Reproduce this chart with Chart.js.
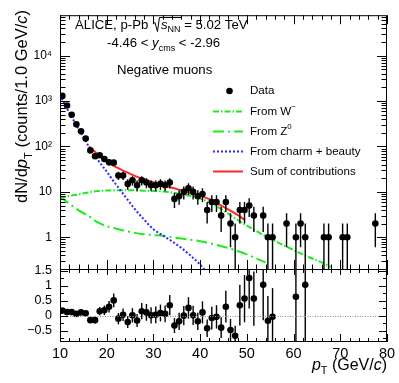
<!DOCTYPE html>
<html><head><meta charset="utf-8">
<script src="https://cdn.jsdelivr.net/npm/chart.js@4.4.1/dist/chart.umd.min.js"></script>
<style>
html,body{margin:0;padding:0;background:#fff;}
#wrap{position:relative;width:399px;height:383px;overflow:hidden;}
canvas{position:absolute;left:0;top:0;}
</style></head><body>
<div id="wrap"><canvas id="bot" width="399" height="383"></canvas><canvas id="top" width="399" height="383"></canvas></div>
<script>
// ---------------- data ----------------
const ptBins = [10.5,11.5,12.5,13.5,14.5,15.5,16.5,17.5,18.5,19.5,
  20.5,21.5,22.5,23.5,24.5,25.5,26.5,27.5,28.5,29.5,
  30.5,31.5,32.5,33.5,34.5,35.5,36.5,37.5,38.5,39.5,
  40.5,41.5,42.5,43.5,44.5,45.5,46.5,47.5,48.5,49.5,
  50.5,51.5,53.5,54.5,55.5,58.5,60.5,61.5,62.5,66.5,67.5,70.5,71.5,77.5];
const counts = [1300,800,500,307,216,149,82,61,64,53,
  45,44,23,23,15,18,14,18,16,14,
  14,15,14,16,7,8,10,12,10,8,
  9,4,6,6,3,6,2,1,4,4,
  5,3,3,1,1,2,1,2,1,1,1,1,1,2];
const countErr = [36,28,22,17.5,14.7,12.2,9.1,7.8,8,7.3,
  6.7,6.6,4.8,4.8,3.9,4.2,3.7,4.2,4,3.7,
  3.7,3.9,3.7,4,2.6,2.8,3.2,3.5,3.2,2.8,
  3,2,2.4,2.4,1.7,2.4,1.4,1,2,2,
  2.2,1.7,1.7,1,1,1.4,1,1.4,1,1,1,1,1,1.4];

const resBins = [10.5,11.5,12.5,13.5,14.5,15.5,16.5,17.5,18.5,19.5,
  20.5,21.5,22.5,23.5,24.5,25.5,26.5,27.5,28.5,29.5,
  30.5,31.5,32.5,33.5,34.5,35.5,36.5,37.5,38.5,39.5,
  40.5,41.5,42.5,43.5,44.5,45.5,46.5,47.5,48.5,49.5,
  50.5,51.5,53.5,54.5,55.5,60.5,62.5];
const residual = [0.17,0.12,0.12,0.06,0.11,0.08,-0.15,-0.15,0.15,0.18,
  0.30,0.51,-0.10,0.03,-0.21,0.01,-0.16,0.15,0.11,0.01,
  0.03,0.09,0.06,0.35,-0.33,-0.19,0.0,0.26,0.01,-0.19,
  0.11,-0.42,-0.08,-0.04,-0.40,0.30,-0.48,-0.67,0.35,0.57,
  1.26,0.57,1.03,-0.17,-0.04,0.63,1.03];
const residualErr = [0.03,0.04,0.05,0.06,0.075,0.09,0.094,0.11,0.14,0.16,
  0.19,0.23,0.19,0.21,0.2,0.24,0.22,0.27,0.28,0.27,
  0.28,0.28,0.28,0.34,0.25,0.29,0.32,0.36,0.32,0.29,
  0.37,0.29,0.38,0.39,0.35,0.53,0.37,0.33,0.68,0.79,
  1.02,0.91,1.18,0.83,0.96,1.64,2.05];

const wPt  = [10,12,14,16,18,20,22,24,26,28,30,32,34,36,38,40,42,44,46,48,50,52,54,56,58,60,62,64,66,68];
const wVal = [7.2,8.1,8.8,9.7,10.4,10.7,10.9,10.9,10.8,10.6,10.5,10.2,9.7,8.9,8.1,7.1,5.9,4.5,3.3,2.4,1.8,1.38,1.05,0.83,0.66,0.52,0.42,0.34,0.28,0.22];
const zPt  = [10,11,12,13,14,16,18,20,22,24,26,28,30,32,34,36,38,40,42,44,46,48,50,52,54];
const zVal = [8.2,6.5,5.5,4.6,3.9,3.0,2.15,1.75,1.55,1.38,1.25,1.17,1.12,1.08,1.0,0.94,0.88,0.82,0.74,0.66,0.58,0.5,0.42,0.34,0.28];
const hfPt  = [10,11,12,13,14,15,16,17,18,19,20,21,22,24,26,28,30,32,34,36,38,40,41];
const hfVal = [1380,850,550,363,240,160,107,74,52,38,28,20,14.5,7.8,4.2,2.45,1.5,1.1,0.81,0.58,0.39,0.25,0.19];
const sumPt  = [16.2,17,18,19,20,21,22,24,26,28,30,32,34,36,38,40,42,44,46,48,49.6];
const sumVal = [100,85,68,56,46,40,35,28,22.5,19,16.3,14,12.3,10.8,9.4,8.2,6.9,5.3,4.1,3.1,2.4];

const xTicks = [10,20,30,40,50,60,70,80];
const xTickLabels = ['10','20','30','40','50','60','70','80'];
const yTopTicks = [1,10,100,1000,10000];
const yTopLabels = ['1','10','10\u00B2','10\u00B3','10\u2074'];
const yBotTicks = [-0.5,0,0.5,1,1.5];
const yBotLabels = ['\u22120.5','0','0.5','1','1.5'];

const legendLabels = ['Data','From W\u207B','From Z\u2070','From charm + beauty','Sum of contributions'];

// ---------------- style ----------------
const FONT = '"Liberation Sans", Arial, Helvetica, sans-serif';
const GREEN = 'rgb(30,235,30)';
const BLUE = 'rgb(40,40,255)';
const RED = 'rgb(255,40,40)';
const W_DASH = [6,2,1.5,2];
const Z_DASH = [11,4,2,4];
const HF_DASH = [2,2];

function pts(xs, ys){ return xs.map((x,i)=>({x:x, y:ys[i]})); }

function drawRuns(ctx, x, y, parts, size, measureOnly){
  let cx = x;
  for (const p of parts){
    const small = p.sub || p.sup;
    const fs = small ? size*0.68 : size;
    ctx.font = (p.i ? 'italic ' : '') + fs + 'px ' + FONT;
    const dy = p.sub ? size*0.28 : (p.sup ? -size*0.42 : 0);
    if (!measureOnly) ctx.fillText(p.t, cx, y+dy);
    cx += ctx.measureText(p.t).width;
  }
  return cx - x;
}

const errorBars = {
  id:'errorBars',
  afterDatasetsDraw(chart){
    const {ctx, chartArea:a, scales} = chart;
    const xs = scales.x, ys = scales.y;
    chart.data.datasets.forEach(ds=>{
      if (!ds.errors) return;
      ctx.save();
      ctx.beginPath(); ctx.rect(a.left, a.top, a.right-a.left, a.bottom-a.top); ctx.clip();
      ctx.strokeStyle = '#000'; ctx.lineWidth = 1.4;
      ds.data.forEach((p,i)=>{
        const e = ds.errors[i];
        const px = xs.getPixelForValue(p.x);
        const lo = p.y - e;
        const pLo = (ys.type === 'logarithmic' && lo <= 0) ? a.bottom + 5 : ys.getPixelForValue(lo);
        const pHi = ys.getPixelForValue(p.y + e);
        ctx.beginPath(); ctx.moveTo(px, pLo); ctx.lineTo(px, pHi); ctx.stroke();
      });
      ctx.restore();
    });
  }
};

const topDecor = {
  id:'topDecor',
  afterDraw(chart){
    const {ctx, chartArea:a, scales:{x, y}} = chart;
    ctx.save();
    ctx.strokeStyle = '#000'; ctx.lineWidth = 1;
    ctx.strokeRect(a.left+0.5, a.top+0.5, a.right-a.left-1, a.bottom-a.top);
    ctx.beginPath();
    for (let v = 10; v <= 80; v += 2){
      const px = Math.round(x.getPixelForValue(v)) + 0.5;
      const L = (v % 10 === 0) ? 9 : 4.5;
      ctx.moveTo(px, a.bottom); ctx.lineTo(px, a.bottom - L);
      ctx.moveTo(px, a.top); ctx.lineTo(px, a.top + L);
    }
    for (let e = -1; e <= 4; e++){
      for (let k = 1; k <= 9; k++){
        const v = k * Math.pow(10, e);
        if (v < y.min || v > y.max) continue;
        const py = Math.round(y.getPixelForValue(v)) + 0.5;
        const L = (k === 1) ? 10 : 5.5;
        ctx.moveTo(a.left, py); ctx.lineTo(a.left + L, py);
        ctx.moveTo(a.right, py); ctx.lineTo(a.right - L, py);
      }
    }
    ctx.stroke();

    // header text
    ctx.fillStyle = '#000';
    ctx.textBaseline = 'alphabetic'; ctx.textAlign = 'left';
    const hs = 13.2;
    let cx = 75, by = 28.5;
    cx += drawRuns(ctx, cx, by, [{t:'ALICE, p-Pb '}], hs);
    // radical
    const rx = cx + 1;
    const sW = drawRuns(ctx, rx + 8, by, [{t:'s', i:true},{t:'NN', sub:true}], hs, true);
    ctx.beginPath(); ctx.lineWidth = 1;
    ctx.moveTo(rx, by - 5); ctx.lineTo(rx + 2, by - 6); ctx.lineTo(rx + 4.5, by + 3);
    ctx.lineTo(rx + 6.5, by - 11); ctx.lineTo(rx + 8 + sW + 1, by - 11);
    ctx.stroke();
    cx = rx + 8;
    cx += drawRuns(ctx, cx, by, [{t:'s', i:true},{t:'NN', sub:true}], hs);
    drawRuns(ctx, cx, by, [{t:' = 5.02 TeV'}], hs);

    drawRuns(ctx, 107, 47, [{t:'-4.46 < '},{t:'y', i:true},{t:'cms', sub:true},{t:' < -2.96'}], hs);
    drawRuns(ctx, 117, 73.5, [{t:'Negative muons'}], hs);

    // legend
    const ls = 11.6, lx = 250, ly = [91, 111.5, 131.5, 151.5, 171.5];
    ctx.textBaseline = 'middle';
    legendLabels.forEach((t,i)=>{
      if (i === 1){ drawRuns(ctx, lx, ly[i], [{t:'From W'},{t:'\u2212', sup:true}], ls); }
      else if (i === 2){ drawRuns(ctx, lx, ly[i], [{t:'From Z'},{t:'0', sup:true}], ls); }
      else drawRuns(ctx, lx, ly[i], [{t:t}], ls);
    });
    ctx.beginPath(); ctx.arc(229.5, ly[0], 3.3, 0, Math.PI*2); ctx.fill();
    const lineSamples = [[GREEN, W_DASH],[GREEN, Z_DASH],[BLUE, HF_DASH],[RED, []]];
    lineSamples.forEach((s,i)=>{
      ctx.strokeStyle = s[0]; ctx.lineWidth = 2; ctx.setLineDash(s[1]);
      ctx.beginPath(); ctx.moveTo(213, ly[i+1]); ctx.lineTo(243, ly[i+1]); ctx.stroke();
    });
    ctx.setLineDash([]);

    // y title (rotated)
    ctx.fillStyle = '#000';
    ctx.textBaseline = 'alphabetic';
    const ts = 16.5;
    const yParts = [{t:'dN/d'},{t:'p', i:true},{t:'T', sub:true},{t:' (counts/1.0 GeV/'},{t:'c', i:true},{t:')'}];
    const w = drawRuns(ctx, 0, 0, yParts, ts, true);
    ctx.translate(27, 10);
    ctx.rotate(-Math.PI/2);
    drawRuns(ctx, -w, 0, yParts, ts);
    ctx.restore();
  }
};

const botDecor = {
  id:'botDecor',
  afterDraw(chart){
    const {ctx, chartArea:a, scales:{x, y}} = chart;
    ctx.save();
    // zero line
    ctx.strokeStyle = '#888'; ctx.lineWidth = 1; ctx.setLineDash([1,1.5]);
    const p0 = Math.round(y.getPixelForValue(0)) + 0.5;
    ctx.beginPath(); ctx.moveTo(a.left, p0); ctx.lineTo(a.right, p0); ctx.stroke();
    ctx.setLineDash([]);
    ctx.strokeStyle = '#000';
    ctx.strokeRect(a.left+0.5, a.top+0.5, a.right-a.left-1, a.bottom-a.top-1);
    ctx.beginPath();
    for (let v = 10; v <= 80; v += 2){
      const px = Math.round(x.getPixelForValue(v)) + 0.5;
      const major = v % 10 === 0;
      ctx.moveTo(px, a.bottom); ctx.lineTo(px, a.bottom - (major ? 8 : 4));
      ctx.moveTo(px, a.top); ctx.lineTo(px, a.top + (major ? 6 : 4));
    }
    for (let v = -0.75; v <= 1.55; v += 0.25){
      const py = Math.round(y.getPixelForValue(v)) + 0.5;
      const major = Math.abs(v*2 - Math.round(v*2)) < 1e-6;
      const L = major ? 8 : 4;
      ctx.moveTo(a.left, py); ctx.lineTo(a.left + L, py);
      ctx.moveTo(a.right, py); ctx.lineTo(a.right - L, py);
    }
    ctx.stroke();
    // x title
    ctx.fillStyle = '#000'; ctx.textBaseline = 'alphabetic';
    const xs = 16;
    const parts = [{t:'p', i:true},{t:'T', sub:true},{t:' (GeV/'},{t:'c', i:true},{t:')'}];
    const w = drawRuns(ctx, 0, 0, parts, xs, true);
    drawRuns(ctx, 387 - w, 370, parts, xs);
    ctx.restore();
  }
};

new Chart(document.getElementById('top'), {
  type:'line',
  data:{ datasets:[
    {label:'Data', data:pts(ptBins, counts), errors:countErr, showLine:false,
     pointRadius:3.3, pointHoverRadius:3.3, pointBackgroundColor:'#000', pointBorderColor:'#000', pointBorderWidth:0},
    {label:'Sum of contributions', data:pts(sumPt, sumVal), borderColor:RED, borderWidth:2, pointRadius:0, cubicInterpolationMode:'monotone', fill:false, clip:0},
    {label:'From charm + beauty', data:pts(hfPt, hfVal), borderColor:BLUE, borderWidth:2, borderDash:HF_DASH, pointRadius:0, cubicInterpolationMode:'monotone', fill:false, clip:0},
    {label:'From Z0', data:pts(zPt, zVal), borderColor:GREEN, borderWidth:2, borderDash:Z_DASH, pointRadius:0, cubicInterpolationMode:'monotone', fill:false, clip:0},
    {label:'From W-', data:pts(wPt, wVal), borderColor:GREEN, borderWidth:2, borderDash:W_DASH, pointRadius:0, cubicInterpolationMode:'monotone', fill:false, clip:0}
  ]},
  options:{
    responsive:false, animation:false, devicePixelRatio:1,
    layout:{padding:{top:10, right:12, bottom:114, left:0}},
    plugins:{legend:{display:false}, tooltip:{enabled:false}},
    scales:{
      x:{type:'linear', min:10, max:80, display:false},
      y:{type:'logarithmic', min:0.2, max:78000,
        grid:{display:false, drawTicks:false}, border:{display:false},
        ticks:{padding:8, color:'#000', autoSkip:false, font:{family:FONT, size:12},
          callback:(v)=>{ const i = yTopTicks.indexOf(v); return i >= 0 ? yTopLabels[i] : ''; }},
        afterBuildTicks:(s)=>{ s.ticks = yTopTicks.map(v=>({value:v})); },
        afterFit:(s)=>{ s.width = 60; }
      }
    }
  },
  plugins:[errorBars, topDecor]
});

new Chart(document.getElementById('bot'), {
  type:'line',
  data:{ datasets:[
    {label:'Residual', data:pts(resBins, residual), errors:residualErr, showLine:false,
     pointRadius:3.3, pointHoverRadius:3.3, pointBackgroundColor:'#000', pointBorderColor:'#000', pointBorderWidth:0}
  ]},
  options:{
    responsive:false, animation:false, devicePixelRatio:1,
    layout:{padding:{top:269, right:12, bottom:0, left:0}},
    plugins:{legend:{display:false}, tooltip:{enabled:false}},
    scales:{
      x:{type:'linear', min:10, max:80,
        grid:{display:false, drawTicks:false}, border:{display:false},
        ticks:{padding:3, color:'#000', autoSkip:false, maxRotation:0, font:{family:FONT, size:14.5},
          callback:(v)=>{ const i = xTicks.indexOf(v); return i >= 0 ? xTickLabels[i] : ''; }},
        afterBuildTicks:(s)=>{ s.ticks = xTicks.map(v=>({value:v})); },
        afterFit:(s)=>{ s.height = 41; }
      },
      y:{type:'linear', min:-0.88, max:1.56,
        grid:{display:false, drawTicks:false}, border:{display:false},
        ticks:{padding:8, color:'#000', autoSkip:false, font:{family:FONT, size:12.5},
          callback:(v)=>{ const i = yBotTicks.indexOf(v); return i >= 0 ? yBotLabels[i] : ''; }},
        afterBuildTicks:(s)=>{ s.ticks = yBotTicks.map(v=>({value:v})); },
        afterFit:(s)=>{ s.width = 60; }
      }
    }
  },
  plugins:[errorBars, botDecor]
});
</script>
</body></html>
